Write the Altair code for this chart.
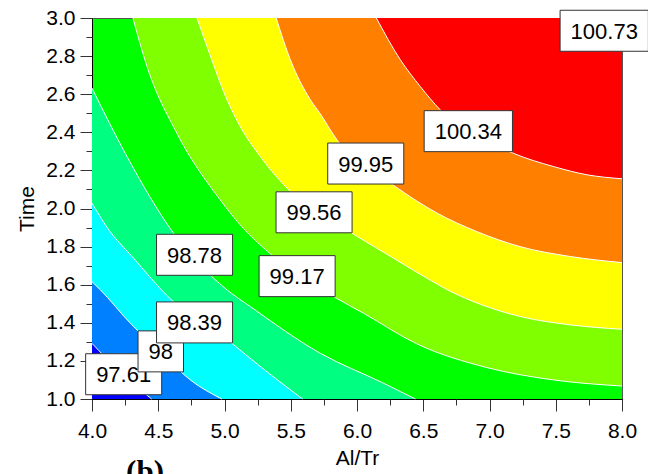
import altair as alt
import pandas as pd

# ---- contour boundaries (Al/Tr on x, Time on y), one list pair per level ----
c9761_x = [4.00, 4.20, 4.45]
c9761_y = [1.292, 1.150, 1.000]

c9800_x = [4.00, 4.063, 4.289, 4.52, 4.742, 4.98]
c9800_y = [1.616, 1.573, 1.398, 1.245, 1.100, 1.000]

c9839_x = [4.00, 4.13, 4.30, 4.60, 5.06, 5.20, 5.40, 5.59]
c9839_y = [2.028, 1.885, 1.750, 1.520, 1.290, 1.210, 1.100, 1.000]

c9878_x = [4.00, 4.264, 4.616, 5.019, 5.195, 5.723, 6.20, 6.44]
c9878_y = [2.632, 2.273, 1.870, 1.573, 1.485, 1.240, 1.083, 1.000]

c9917_x = [4.309, 4.415, 4.64, 4.968, 5.119, 5.371, 5.824, 6.05, 6.45, 6.98, 7.484, 8.00]
c9917_y = [3.000, 2.746, 2.396, 2.045, 1.914, 1.748, 1.537, 1.450, 1.290, 1.165, 1.100, 1.068]

c9956_x = [4.792, 4.868, 5.019, 5.119, 5.27, 5.497, 5.962, 6.25, 6.50, 6.75, 7.00, 7.25, 7.60, 8.00]
c9956_y = [3.000, 2.851, 2.571, 2.430, 2.273, 2.089, 1.870, 1.750, 1.645, 1.550, 1.480, 1.430, 1.390, 1.366]

c9995_x = [5.39, 5.497, 5.648, 5.72, 5.849, 6.30, 6.604, 6.90, 7.23, 7.61, 8.00]
c9995_y = [3.000, 2.781, 2.571, 2.500, 2.360, 2.110, 1.976, 1.880, 1.800, 1.748, 1.716]

c10034_x = [6.146, 6.327, 6.478, 6.628, 7.18, 7.484, 7.736, 8.00]
c10034_y = [3.000, 2.781, 2.640, 2.518, 2.290, 2.220, 2.177, 2.156]

# ---- contour labels ----
label_text = ["97.61", "98", "98.39", "98.78", "99.17", "99.56", "99.95", "100.34", "100.73"]
label_x = [4.239, 4.519, 4.774, 4.774, 5.548, 5.676, 6.066, 6.84, 7.866]
label_y = [1.130, 1.250, 1.402, 1.757, 1.645, 1.980, 2.236, 2.406, 2.933]

# ---- axis ticks ----
x_major = [4.0, 4.5, 5.0, 5.5, 6.0, 6.5, 7.0, 7.5, 8.0]
x_minor = [4.25, 4.75, 5.25, 5.75, 6.25, 6.75, 7.25, 7.75]
y_major = [1.0, 1.2, 1.4, 1.6, 1.8, 2.0, 2.2, 2.4, 2.6, 2.8, 3.0]
y_minor = [1.1, 1.3, 1.5, 1.7, 1.9, 2.1, 2.3, 2.5, 2.7, 2.9]

FONT = "Liberation Sans"
xs = alt.Scale(domain=[4, 8], nice=False, zero=False)
ys = alt.Scale(domain=[1, 3], nice=False, zero=False)


def frame(xv, yv):
    return pd.DataFrame({"x": xv, "y": yv})


def xq(axis=None):
    return alt.X("x:Q", scale=xs, axis=axis)


def yq(axis=None):
    return alt.Y("y:Q", scale=ys, axis=axis)


layers = []

# regions below the lower-left contours, largest first
lower = [
    (c9878_x, c9878_y, "#00FF80"),
    (c9839_x, c9839_y, "#00FFFF"),
    (c9800_x, c9800_y, "#0080FF"),
    (c9761_x, c9761_y, "#0000FF"),
]
# regions above the upper-right contours, largest first
upper = [
    (c9917_x, c9917_y, "#80FF00"),
    (c9956_x, c9956_y, "#FFFF00"),
    (c9995_x, c9995_y, "#FF8000"),
    (c10034_x, c10034_y, "#FF0000"),
]

first = True
for xv, yv, col in lower:
    ax_x = alt.Axis(values=x_major, format=".1f", orient="bottom", tickSize=12,
                    labelPadding=9, title="Al/Tr", titlePadding=6) if first else None
    ax_y = alt.Axis(values=y_major, format=".1f", orient="left", tickSize=12,
                    labelPadding=5, title="Time", titlePadding=8) if first else None
    layers.append(
        alt.Chart(frame(xv, yv)).mark_area(interpolate="monotone", color=col, opacity=1)
        .encode(x=xq(ax_x), y=yq(ax_y), y2=alt.datum(1.0))
    )
    first = False

minor_done = False
for xv, yv, col in upper:
    ax_x = alt.Axis(values=x_minor, orient="bottom", tickSize=6, labels=False,
                    domain=False, title=None) if not minor_done else None
    ax_y = alt.Axis(values=y_minor, orient="left", tickSize=6, labels=False,
                    domain=False, title=None) if not minor_done else None
    layers.append(
        alt.Chart(frame(xv, yv)).mark_area(interpolate="monotone", color=col, opacity=1)
        .encode(x=xq(ax_x), y=yq(ax_y), y2=alt.datum(3.0))
    )
    minor_done = True

# white contour lines
for xv, yv in [(c9761_x, c9761_y), (c9800_x, c9800_y), (c9839_x, c9839_y),
               (c9878_x, c9878_y), (c9917_x, c9917_y), (c9956_x, c9956_y),
               (c9995_x, c9995_y), (c10034_x, c10034_y)]:
    layers.append(
        alt.Chart(frame(xv, yv)).mark_line(interpolate="monotone", color="white", strokeWidth=1)
        .encode(x=xq(), y=yq())
    )

# boxed level labels, drawn in ascending order
LBL = 22
for t, lx, ly in zip(label_text, label_x, label_y):
    tw = sum(0.278 if ch == "." else 0.556 for ch in t) * LBL
    hw = tw / 2 + 10.5
    hh = 20.5
    d = pd.DataFrame({"x": [lx], "y": [ly], "t": [t]})
    layers.append(
        alt.Chart(d).mark_rect(fill="white", stroke="#333333", strokeWidth=1,
                               xOffset=-hw, x2Offset=hw, yOffset=-hh, y2Offset=hh)
        .encode(x=xq(), x2="x", y=yq(), y2="y")
    )
    layers.append(
        alt.Chart(d).mark_text(font=FONT, fontSize=LBL, color="black",
                               align="center", baseline="middle", dy=1)
        .encode(x=xq(), y=yq(), text="t:N")
    )

# panel tag below the axis
layers.append(
    alt.Chart(pd.DataFrame({"t": ["(b)"]})).mark_text(
        font="Liberation Serif", fontSize=31, fontWeight="bold", color="black",
        align="center", baseline="alphabetic")
    .encode(x=alt.value(53), y=alt.value(464), text="t:N")
)

chart = (
    alt.layer(*layers)
    .resolve_axis(x="independent", y="independent")
    .properties(width=530, height=381,
                autosize=alt.AutoSizeParams(type="none"),
                padding={"left": 92, "top": 18, "right": 26, "bottom": 75})
    .configure_view(fill="#00FF00", stroke="#555555", strokeWidth=1)
    .configure_axis(labelFont=FONT, labelFontSize=21, labelColor="black",
                    titleFont=FONT, titleFontSize=21, titleFontWeight="normal",
                    titleColor="black", domainColor="black", tickColor="#333333",
                    grid=False, labelFlush=False, labelOverlap=False)
)

chart.save("out.html", embed_options={"renderer": "svg", "actions": False})
